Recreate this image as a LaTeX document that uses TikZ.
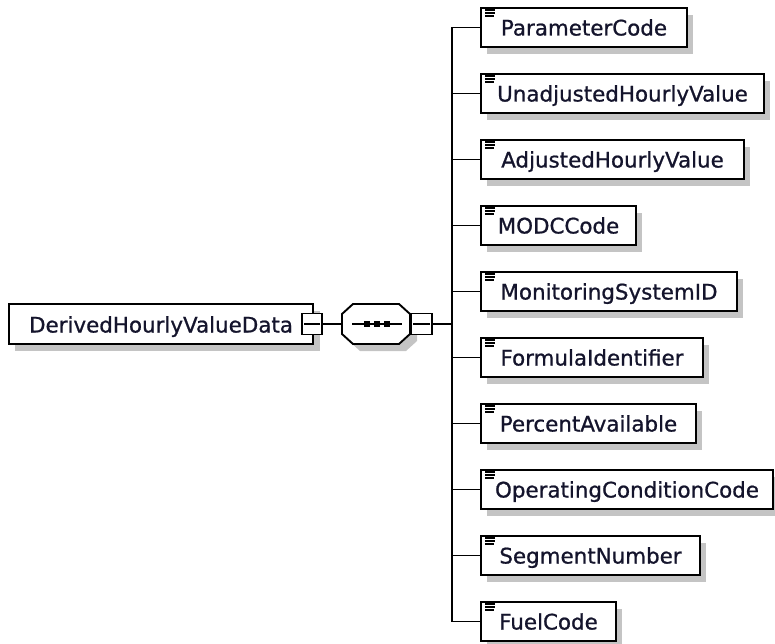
\documentclass[tikz,border=0pt]{standalone}
\usepackage{fontspec}
\setmainfont{DejaVu Sans}
\newfontfamily\lblfont{DejaVu Sans}[FakeBold=0.9]
\usetikzlibrary{calc}
\definecolor{shadowgray}{HTML}{C4C4C4}
\definecolor{ink}{HTML}{14142C}
\begin{document}
\begin{tikzpicture}[x=1pt,y=-1pt,
  box/.style={draw=black, line width=2pt, fill=white, rectangle, minimum height=39pt,
    inner sep=0pt, text height=17pt, text depth=1pt, text=ink, font=\lblfont\fontsize{21.4}{24}\selectfont},
  minusbox/.style={draw=black, line width=1.8pt, fill=white, rectangle, minimum width=20pt,
    minimum height=21pt, inner sep=0pt},
  conn/.style={draw=black, line width=1.9pt},
  icon/.style={draw=black, line width=1.3pt}]
\useasboundingbox (0,0) rectangle (775,644);

% spine coordinate
\coordinate (spine) at (452,324);

% children
\foreach \t/\w [count=\i from 0] in {ParameterCode/206, UnadjustedHourlyValue/283,
  AdjustedHourlyValue/263, MODCCode/155, MonitoringSystemID/256, FormulaIdentifier/222,
  PercentAvailable/215, OperatingConditionCode/292, SegmentNumber/219, FuelCode/135} {
  \fill[shadowgray] (487,{15+66*\i}) rectangle ++(\w,39);
  \node[box, minimum width=\w pt, anchor=west] (c\i) at (480,{27.5+66*\i}) {\t};
  \draw[icon] ($(c\i.north west)+(5,3)$) -- ++(10,0);
  \draw[icon] ($(c\i.north west)+(5,6)$) -- ++(10,0);
  \draw[icon] ($(c\i.north west)+(5,9)$) -- ++(9,0);
  \draw[conn] (spine |- c\i.west) -- (c\i.west);
}
\draw[conn] (spine |- c0.west) -- (spine |- c9.west);

% root
\fill[shadowgray] (15,311) rectangle (320,351);
\node[box, minimum width=304pt, minimum height=40pt, anchor=west, text height=18pt] (root) at (8,324) {DerivedHourlyValueData};
\node[minusbox] (m1) at (312,324) {};
\draw[line width=1.6pt] ($(m1.west)+(3,0)$) -- ($(m1.east)+(-3,0)$);

% sequence octagon
\fill[shadowgray] (360,311) -- (406,311) -- (417,321) -- (417,341) -- (406,351) -- (360,351) -- (349,341) -- (349,321) -- cycle;
\node[minimum width=68pt, minimum height=40pt, inner sep=0pt] (seq) at (376,324) {};
\draw[line width=1.9pt, fill=white] (353,304) -- (399,304) -- (410,314) -- (410,334) -- (399,344) -- (353,344) -- (342,334) -- (342,314) -- cycle;
\draw[line width=1.8pt] (352,324) -- (402,324);
\foreach \dx in {367,377,387} \fill[black] (\dx-2.8,321.3) rectangle (\dx+2.8,326.7);
\node[minusbox, minimum width=21pt] (m2) at (421.5,324) {};
\draw[line width=1.6pt] ($(m2.west)+(3,0)$) -- ($(m2.east)+(-3,0)$);

% connectors
\draw[conn] (m1.east) -- (seq.west);
\draw[conn] (m2.east) -- (spine);
\end{tikzpicture}
\end{document}
